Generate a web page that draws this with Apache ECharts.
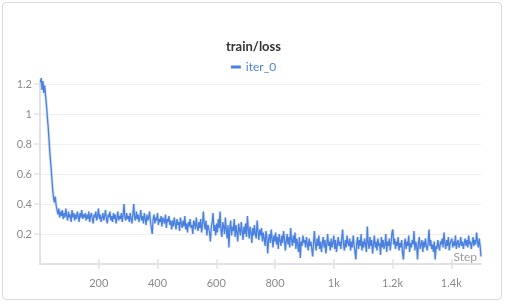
<!DOCTYPE html>
<html><head><meta charset="utf-8">
<script src="https://cdn.jsdelivr.net/npm/echarts@6/dist/echarts.min.js"></script>
<style>
html,body{margin:0;padding:0;background:#fff;}
#frame{position:absolute;left:2px;top:2px;width:500px;height:298px;border:1px solid #dcdce0;border-radius:4px;box-sizing:border-box;}
#chart{position:absolute;left:0;top:0;width:507px;height:305px;}
</style></head>
<body>
<div id="frame"></div>
<div id="chart"></div>
<script>
const title = 'train/loss';
const seriesName = 'iter_0';
const stepSpacing = 3;
const lastStep = 1501;
const xTickLabels = [200, 400, 600, 800, 1000, 1200, 1400];
const yTickLabels = [0.2, 0.4, 0.6, 0.8, 1.0, 1.2];

// loss readings, one every 3 steps starting at step 1
const loss_0001_0148 = [1.21,1.24,1.16,1.22,1.14,1.19,1.12,1.06,0.98,0.91, 0.82,0.73,0.66,0.58,0.50,0.44,0.41,0.45,0.39,0.36, 0.33,0.37,0.31,0.35,0.32,0.36,0.30,0.34,0.31,0.37, 0.32,0.29,0.35,0.31,0.33,0.28,0.36,0.31,0.34,0.29, 0.33,0.30,0.35,0.32,0.28,0.34,0.31,0.36,0.30,0.33];
const loss_0151_0298 = [0.31,0.34,0.29,0.33,0.30,0.35,0.28,0.32,0.34,0.30, 0.27,0.33,0.31,0.35,0.29,0.32,0.37,0.30,0.33,0.28, 0.31,0.34,0.29,0.32,0.36,0.30,0.27,0.33,0.31,0.35, 0.29,0.32,0.28,0.34,0.30,0.33,0.27,0.31,0.35,0.29, 0.32,0.30,0.34,0.28,0.33,0.40,0.31,0.29,0.34,0.30];
const loss_0301_0448 = [0.32,0.28,0.34,0.30,0.27,0.33,0.40,0.31,0.29,0.35, 0.30,0.33,0.28,0.31,0.36,0.29,0.32,0.27,0.34,0.30, 0.26,0.33,0.29,0.31,0.35,0.28,0.24,0.20,0.30,0.33, 0.27,0.31,0.29,0.34,0.26,0.30,0.28,0.32,0.25,0.31, 0.29,0.27,0.33,0.24,0.30,0.28,0.32,0.26,0.29,0.23];
const loss_0451_0598 = [0.29,0.25,0.31,0.27,0.23,0.30,0.26,0.28,0.22,0.31, 0.27,0.24,0.29,0.25,0.32,0.23,0.27,0.21,0.28,0.25, 0.30,0.24,0.26,0.20,0.29,0.27,0.23,0.31,0.25,0.22, 0.28,0.24,0.30,0.21,0.26,0.35,0.27,0.23,0.29,0.19, 0.26,0.24,0.21,0.15,0.25,0.28,0.34,0.22,0.26,0.19];
const loss_0601_0748 = [0.27,0.21,0.30,0.24,0.35,0.22,0.18,0.28,0.25,0.20, 0.31,0.23,0.17,0.26,0.11,0.24,0.29,0.19,0.25,0.22, 0.30,0.18,0.26,0.21,0.15,0.27,0.23,0.19,0.28,0.22, 0.16,0.25,0.20,0.27,0.18,0.32,0.23,0.17,0.25,0.21, 0.14,0.24,0.19,0.26,0.20,0.17,0.29,0.22,0.16,0.23];
const loss_0751_0898 = [0.19,0.24,0.15,0.21,0.17,0.12,0.22,0.18,0.07,0.16, 0.20,0.14,0.23,0.17,0.11,0.19,0.15,0.21,0.13,0.18, 0.10,0.20,0.16,0.12,0.19,0.14,0.22,0.17,0.09,0.15, 0.20,0.13,0.18,0.11,0.24,0.16,0.12,0.19,0.14,0.21, 0.10,0.17,0.13,0.08,0.18,0.04,0.15,0.12,0.19,0.14];
const loss_0901_1048 = [0.16,0.11,0.18,0.13,0.09,0.17,0.12,0.15,0.10,0.05, 0.14,0.22,0.13,0.09,0.17,0.12,0.19,0.10,0.15,0.08, 0.14,0.18,0.11,0.16,0.07,0.13,0.20,0.12,0.15,0.09, 0.17,0.11,0.14,0.19,0.10,0.16,0.08,0.13,0.18,0.12, 0.15,0.10,0.17,0.23,0.13,0.09,0.16,0.11,0.19,0.14];
const loss_1051_1198 = [0.12,0.17,0.09,0.15,0.11,0.19,0.13,0.08,0.03,0.14, 0.18,0.10,0.16,0.12,0.20,0.09,0.15,0.11,0.17,0.13, 0.08,0.25,0.14,0.10,0.18,0.12,0.16,0.07,0.13,0.19, 0.11,0.15,0.09,0.17,0.12,0.14,0.06,0.18,0.11,0.16, 0.10,0.13,0.20,0.08,0.15,0.12,0.17,0.09,0.14,0.21];
const loss_1201_1348 = [0.23,0.13,0.17,0.10,0.15,0.12,0.18,0.09,0.14,0.11, 0.16,0.07,0.03,0.13,0.17,0.10,0.15,0.12,0.19,0.08, 0.14,0.11,0.16,0.13,0.22,0.09,0.15,0.12,0.03,0.14, 0.18,0.10,0.13,0.16,0.08,0.15,0.11,0.17,0.12,0.09, 0.14,0.23,0.12,0.16,0.10,0.13,0.08,0.15,0.03,0.12];
const loss_1351_1498 = [0.10,0.16,0.12,0.09,0.15,0.13,0.17,0.11,0.21,0.14, 0.10,0.16,0.12,0.18,0.09,0.14,0.13,0.17,0.11,0.15, 0.12,0.19,0.10,0.14,0.16,0.11,0.13,0.18,0.12,0.15, 0.10,0.14,0.17,0.12,0.16,0.11,0.19,0.13,0.15,0.10, 0.14,0.18,0.12,0.16,0.13,0.21,0.15,0.11,0.17,0.12];
const loss_final = 0.05;

const lossValues = [].concat(loss_0001_0148, loss_0151_0298, loss_0301_0448, loss_0451_0598, loss_0601_0748,
  loss_0751_0898, loss_0901_1048, loss_1051_1198, loss_1201_1348, loss_1351_1498);
const data = lossValues.map((v, i) => [1 + i * stepSpacing, v]);
data.push([lastStep, loss_final]);

const font = "'Source Sans Pro', Lato, 'Noto Sans', sans-serif";
const labelColor = '#8a8a90';
const axisColor = '#e2e2e6';
const lineColor = '#4a80e0';

const chart = echarts.init(document.getElementById('chart'), null, {renderer: 'canvas'});
chart.setOption({
  animation: false,
  title: {text: title, left: 'center', top: 35, textStyle: {fontFamily: font, fontSize: 13, fontWeight: 'bold', color: '#333'}},
  legend: {top: 56, left: 'center', itemWidth: 10, itemHeight: 3, icon: 'rect', itemGap: 10,
    textStyle: {fontFamily: font, fontSize: 12, color: lineColor}, data: [seriesName]},
  grid: {left: 40, right: 26, top: 84, bottom: 41},
  xAxis: [{
    type: 'value', min: 0, max: lastStep,
    name: 'Step', nameLocation: 'end', nameGap: -4,
    nameTextStyle: {fontFamily: font, fontSize: 12, color: '#9a9aa0', align: 'right', verticalAlign: 'bottom', padding: [0, 0, 1, 0]},
    axisLine: {show: true, lineStyle: {color: axisColor, width: 2}},
    axisTick: {show: true, length: 5, lineStyle: {color: axisColor, width: 1.5}, customValues: xTickLabels},
    axisLabel: {customValues: xTickLabels, margin: 14, fontFamily: font, fontSize: 11, color: labelColor,
      formatter: v => v >= 1000 ? (v / 1000) + 'k' : String(v)},
    splitLine: {show: false}
  }, {
    type: 'value', min: 0, max: lastStep, position: 'bottom',
    axisLine: {show: false},
    axisTick: {show: true, inside: true, length: 5, lineStyle: {color: axisColor, width: 1.5}, customValues: xTickLabels},
    axisLabel: {show: false},
    splitLine: {show: false}
  }],
  yAxis: {
    type: 'value', min: 0, max: 1.2, interval: 0.2,
    axisLine: {show: true, lineStyle: {color: axisColor, width: 2}},
    axisTick: {show: true, length: 6, lineStyle: {color: axisColor, width: 1.5}, customValues: yTickLabels},
    axisLabel: {customValues: yTickLabels, margin: 8, fontFamily: font, fontSize: 11, color: labelColor,
      formatter: v => String(Math.round(v * 10) / 10)},
    splitLine: {show: true, lineStyle: {color: '#efeff2', width: 1}}
  },
  series: [{
    name: seriesName + '_band', type: 'line', data: data, xAxisIndex: 0,
    showSymbol: false, clip: false, silent: true, z: 1,
    lineStyle: {color: 'rgba(74,128,224,0.22)', width: 3}
  }, {
    name: seriesName, type: 'line', data: data, xAxisIndex: 0,
    showSymbol: false, clip: false, z: 2,
    lineStyle: {color: lineColor, width: 1.3},
    itemStyle: {color: lineColor}
  }]
});
</script>
</body></html>
